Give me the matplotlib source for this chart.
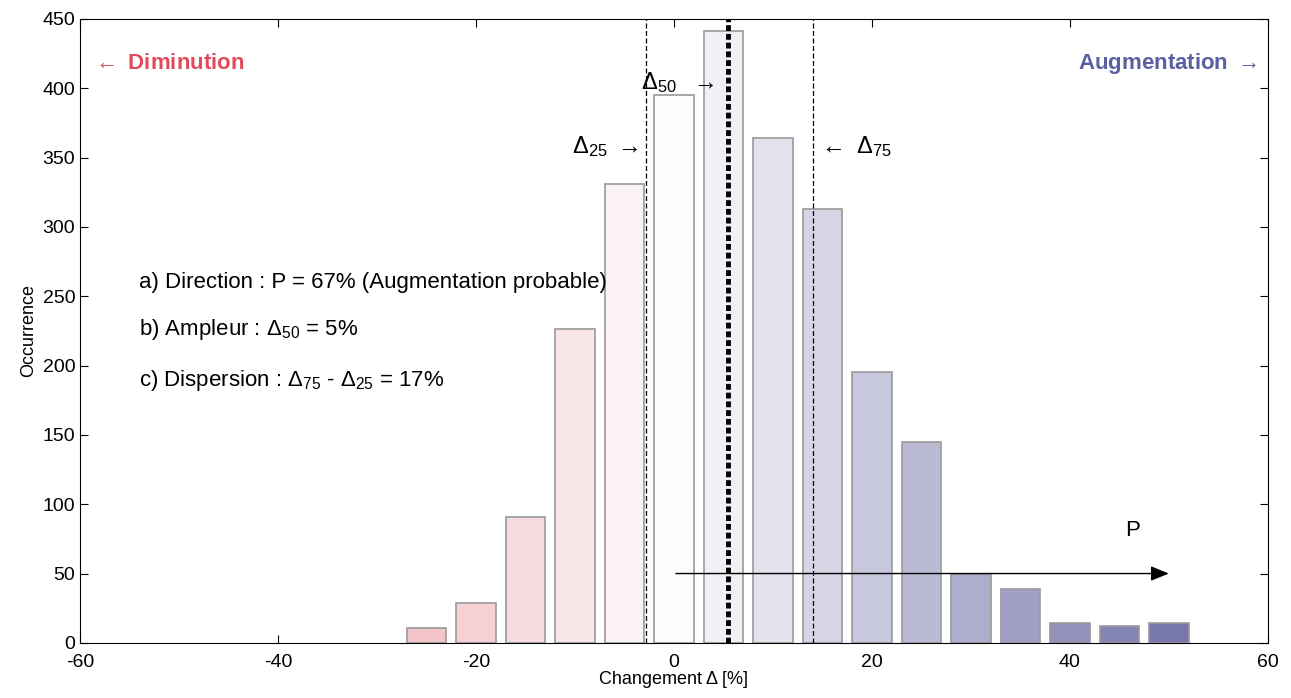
import matplotlib.pyplot as plt
import numpy as np
from matplotlib.colors import LinearSegmentedColormap

plt.rcParams['font.family'] = ['Liberation Sans', 'DejaVu Sans']
plt.rcParams['mathtext.fontset'] = 'custom'
plt.rcParams['mathtext.rm'] = 'Liberation Sans'
plt.rcParams['mathtext.it'] = 'Liberation Sans'
plt.rcParams['mathtext.default'] = 'rm'
plt.rcParams['axes.unicode_minus'] = False

# données
centres = [-25, -20, -15, -10, -5, 0, 5, 10, 15, 20, 25, 30, 35, 40, 45, 50]
occurrence = [11, 29, 91, 226, 331, 395, 441, 364, 313, 195, 145, 50, 39, 14, 12, 14]
quartiles = {'25': -2.8, '50': 5.45, '75': 14.1}
xticks = [-60, -40, -20, 0, 20, 40, 60]
yticks = [0, 50, 100, 150, 200, 250, 300, 350, 400, 450]

# couleurs : rouge -> blanc -> bleu
cmap = LinearSegmentedColormap.from_list('rb', ['#f0b6bd', '#fdfdfd', '#7878ae'])
vals = np.array(centres, dtype=float)
cnorm = np.where(vals <= 0, 0.5 + vals / 25 * 0.4, 0.5 + vals / 50 * 0.5)
colors = [cmap(c) for c in cnorm]

fig = plt.figure(figsize=(12.91, 6.98), dpi=100)
ax = fig.add_axes([0.062, 0.079, 0.920, 0.894])

ax.bar(centres, occurrence, width=4, color=colors, edgecolor='#9a9a9a', linewidth=1.2, zorder=2)

ax.axvline(quartiles['25'], color='black', ls=(0, (4, 2)), lw=0.9, zorder=3)
ax.axvline(quartiles['75'], color='black', ls=(0, (4, 2)), lw=0.9, zorder=3)
ax.axvline(quartiles['50'], color='black', ls=(0, (1.2, 0.6)), lw=3.5, zorder=3)

ax.text(-3.6, 358, r'$\Delta_{25}$ $\rightarrow$', fontsize=17, ha='right', va='center')
ax.text(-3.3, 404, r'$\Delta_{50}$  $\rightarrow$', fontsize=17, ha='left', va='center')
ax.text(14.6, 358, r'$\leftarrow$ $\Delta_{75}$', fontsize=17, ha='left', va='center')

ax.text(-58.8, 418, r'$\leftarrow$ Diminution', color='#e04a5a', fontsize=16, fontweight='bold',
        va='center')
ax.text(58.9, 418, r'Augmentation $\rightarrow$', color='#5a5fa0', fontsize=16, fontweight='bold',
        va='center', ha='right')

ax.text(-54, 260, 'a) Direction : P = 67% (Augmentation probable)', fontsize=16, va='center')
ax.text(-54, 226, r'b) Ampleur : $\Delta_{50}$ = 5%', fontsize=16, va='center')
ax.text(-54, 189, r'c) Dispersion : $\Delta_{75}$ - $\Delta_{25}$ = 17%', fontsize=16, va='center')

ax.annotate('', xy=(50, 50), xytext=(0.2, 50),
            arrowprops=dict(arrowstyle='-|>,head_length=1.1,head_width=0.45', color='black', lw=1,
                            shrinkA=0, shrinkB=0), zorder=4)
ax.text(46.3, 81, 'P', fontsize=16, ha='center', va='center')

ax.set_xlim(-60, 60)
ax.set_ylim(0, 450)
ax.set_xticks(xticks)
ax.set_yticks(yticks)
ax.tick_params(direction='in', top=True, right=True, labelsize=14, length=6)
ax.tick_params(axis='x', pad=8)
ax.set_xlabel('Changement Δ [%]', fontsize=13, labelpad=0)
ax.set_ylabel('Occurrence', fontsize=13, labelpad=4)

fig.savefig('out.png', dpi=100)
